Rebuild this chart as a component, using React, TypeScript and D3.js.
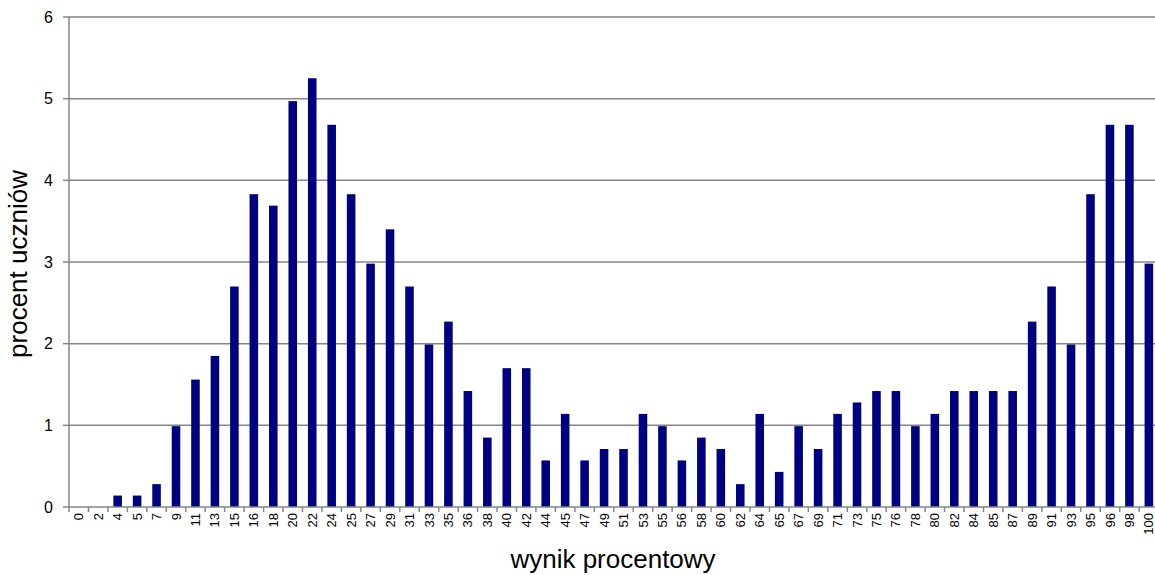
import React, { useEffect, useRef } from "react";
import * as d3 from "d3";

const categories: string[] = [
  "0","2","4","5","7","9","11","13","15","16","18","20","22","24","25","27","29","31","33","35",
  "36","38","40","42","44","45","47","49","51","53","55","56","58","60","62","64","65","67","69","71",
  "73","75","76","78","80","82","84","85","87","89","91","93","95","96","98","100",
];
const values: number[] = [
  0, 0, 0.14, 0.14, 0.28, 0.99, 1.56, 1.85, 2.7, 3.83, 3.69, 4.97, 5.25, 4.68, 3.83, 2.98, 3.4, 2.7, 1.99, 2.27,
  1.42, 0.85, 1.7, 1.7, 0.57, 1.14, 0.57, 0.71, 0.71, 1.14, 0.99, 0.57, 0.85, 0.71, 0.28, 1.14, 0.43, 0.99, 0.71, 1.14,
  1.28, 1.42, 1.42, 0.99, 1.14, 1.42, 1.42, 1.42, 1.42, 2.27, 2.7, 1.99, 3.83, 4.68, 4.68, 2.98,
];
const yTicks: number[] = [0, 1, 2, 3, 4, 5, 6];
const xTitle = "wynik procentowy";
const yTitle = "procent uczniów";

const W = 1155;
const H = 575;
const FONT = "'Liberation Sans', Arial, sans-serif";

export default function App() {
  const ref = useRef<SVGSVGElement>(null);

  useEffect(() => {
    document.body.style.margin = "0";
    const svg = d3.select(ref.current);
    svg.selectAll("*").remove();

    const left = 69, right = 1158.6, top = 17, bottom = 507;
    const x = d3.scaleBand<string>().domain(categories).range([left, right]).paddingInner(0.56).paddingOuter(0.28);
    const y = d3.scaleLinear().domain([0, 6]).range([bottom, top]);
    const step = (right - left) / categories.length;

    // gridlines
    svg.append("g").selectAll("line").data(yTicks.filter((t) => t > 0)).join("line")
      .attr("x1", left).attr("x2", W).attr("y1", (d) => y(d)).attr("y2", (d) => y(d))
      .attr("stroke", "#868686").attr("stroke-width", 1.5);

    // bars
    svg.append("g").selectAll("rect").data(values).join("rect")
      .attr("x", (_, i) => x(categories[i])!)
      .attr("width", x.bandwidth())
      .attr("y", (d) => y(d))
      .attr("height", (d) => bottom - y(d))
      .attr("fill", "#000080");

    // y axis
    svg.append("line").attr("x1", left).attr("x2", left).attr("y1", top).attr("y2", bottom)
      .attr("stroke", "#868686").attr("stroke-width", 1.5);
    svg.append("g").selectAll("line").data(yTicks).join("line")
      .attr("x1", left - 6).attr("x2", left).attr("y1", (d) => y(d)).attr("y2", (d) => y(d))
      .attr("stroke", "#868686").attr("stroke-width", 1.5);
    svg.append("g").selectAll("text").data(yTicks).join("text")
      .attr("x", left - 16).attr("y", (d) => y(d)).attr("dy", "0.35em")
      .attr("text-anchor", "end").attr("font-family", FONT).attr("font-size", 16).attr("fill", "#000")
      .text((d) => String(d));

    // x axis
    svg.append("line").attr("x1", left).attr("x2", W).attr("y1", bottom).attr("y2", bottom)
      .attr("stroke", "#868686").attr("stroke-width", 1.5);
    svg.append("g").selectAll("line").data(d3.range(categories.length + 1)).join("line")
      .attr("x1", (i) => left + i * step).attr("x2", (i) => left + i * step)
      .attr("y1", bottom).attr("y2", bottom + 5)
      .attr("stroke", "#868686").attr("stroke-width", 1.5);
    svg.append("g").selectAll("text").data(categories).join("text")
      .attr("transform", (d) => `translate(${x(d)! + x.bandwidth() / 2},${bottom + 6}) rotate(-90)`)
      .attr("dy", "0.35em")
      .attr("text-anchor", "end").attr("font-family", FONT).attr("font-size", 13).attr("fill", "#000")
      .text((d) => d);

    // titles
    svg.append("text").attr("x", 613).attr("y", 568)
      .attr("text-anchor", "middle").attr("font-family", FONT).attr("font-size", 26).attr("fill", "#000")
      .text(xTitle);
    svg.append("text").attr("transform", `translate(27,264) rotate(-90)`)
      .attr("text-anchor", "middle").attr("font-family", FONT).attr("font-size", 26).attr("fill", "#000")
      .text(yTitle);
  }, []);

  return (
    <svg ref={ref} width={W} height={H} style={{ position: "absolute", left: 0, top: 0, background: "#fff" }} />
  );
}
